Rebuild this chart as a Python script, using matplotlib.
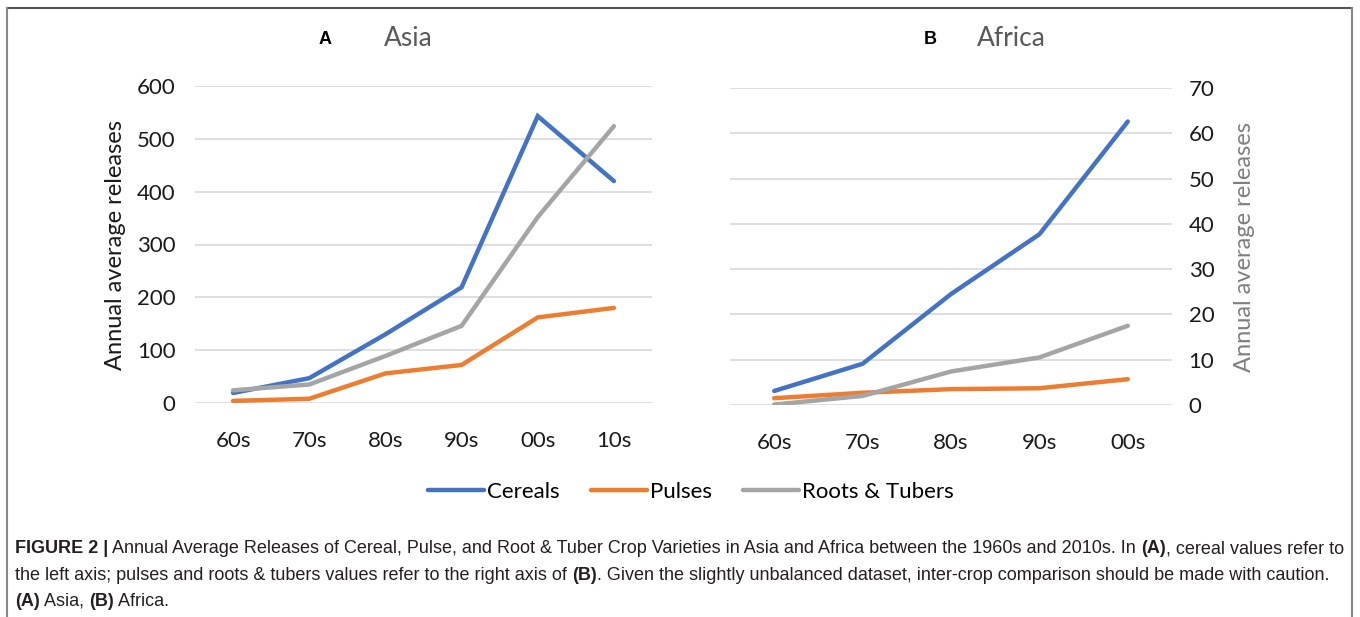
import numpy as np
import matplotlib
matplotlib.use("Agg")
import matplotlib.pyplot as plt
from matplotlib.lines import Line2D

# Data
asia_decades = ["60s", "70s", "80s", "90s", "00s", "10s"]
asia_cereals = [19, 47, 130, 219, 543, 420]
asia_pulses = [4, 8, 56, 72, 162, 180]
asia_roots = [24, 35, 89, 146, 352, 524]

africa_decades = ["60s", "70s", "80s", "90s", "00s"]
africa_cereals = [3.1, 9.1, 24.5, 37.7, 62.6]
africa_pulses = [1.5, 2.7, 3.5, 3.7, 5.7]
africa_roots = [0.1, 2.0, 7.4, 10.5, 17.5]

series_names = ["Cereals", "Pulses", "Roots & Tubers"]
colors = ["#4472C4", "#ED7D31", "#A5A5A5"]

chart_font = ["Lato", "DejaVu Sans"]
cap_font = ["Liberation Sans", "DejaVu Sans"]

plt.rcParams["font.family"] = chart_font
plt.rcParams["font.size"] = 16

W, H = 1360, 617
fig = plt.figure(figsize=(W / 100, H / 100), dpi=100)


def fx(px):
    return px / W


def fy(py):
    return 1 - py / H


def style_axis(ax, labels, ymax, step):
    ax.set_xlim(-0.5, len(labels) - 0.5)
    ax.set_ylim(0, ymax)
    ax.set_yticks(np.arange(0, ymax + 1, step))
    ax.set_xticks(range(len(labels)))
    ax.set_xticklabels(labels)
    ax.grid(axis="y", color="#d9d9d9", lw=1.2)
    ax.set_axisbelow(True)
    for s in ax.spines.values():
        s.set_visible(False)
    ax.tick_params(length=0, labelsize=16, labelcolor="#1a1a1a")
    ax.tick_params(axis="y", pad=14)
    ax.tick_params(axis="x", pad=20)


# Panel A - Asia
ax1 = fig.add_axes([fx(195), fy(403), fx(652 - 195), (403 - 86) / H])
x1 = np.arange(len(asia_decades))
for vals, c in zip([asia_cereals, asia_pulses, asia_roots], colors):
    ax1.plot(x1, vals, color=c, lw=3.2, solid_capstyle="round", solid_joinstyle="miter")
style_axis(ax1, asia_decades, 600, 100)
ax1.set_ylabel("Annual average releases", fontsize=17, color="#1a1a1a", labelpad=8)

# Panel B - Africa
ax2 = fig.add_axes([fx(730), fy(405), fx(1172 - 730), (405 - 88) / H])
x2 = np.arange(len(africa_decades))
for vals, c in zip([africa_cereals, africa_pulses, africa_roots], colors):
    ax2.plot(x2, vals, color=c, lw=3.2, solid_capstyle="round", solid_joinstyle="miter")
style_axis(ax2, africa_decades, 70, 10)
ax2.yaxis.tick_right()
ax2.yaxis.set_label_position("right")
ax2.tick_params(axis="y", pad=12)
ax2.set_ylabel("Annual average releases", fontsize=17, color="#7f7f7f", labelpad=14)

# panel titles
fig.text(fx(325), fy(40), "A", fontsize=13, fontweight="bold",
         family=cap_font, ha="center", va="center")
fig.text(fx(408), fy(38), "Asia", fontsize=19, color="#595959", ha="center", va="center")
fig.text(fx(930), fy(40), "B", fontsize=13, fontweight="bold",
         family=cap_font, ha="center", va="center")
fig.text(fx(1011), fy(38), "Africa", fontsize=19, color="#595959", ha="center", va="center")

# legend
handles = [Line2D([], [], color=c, lw=3.2, solid_capstyle="round") for c in colors]
fig.legend(handles, series_names, loc="center", bbox_to_anchor=(fx(691), fy(492)),
           ncol=3, frameon=False, handlelength=2.5, handletextpad=0.15,
           columnspacing=1.4, prop={"size": 16})

# frame around the figure
fig.add_artist(Line2D([fx(7), fx(1352)], [fy(8), fy(8)], color="#555555", lw=1.5))
fig.add_artist(Line2D([fx(7), fx(7)], [fy(8), 0], color="#888888", lw=1.5))
fig.add_artist(Line2D([fx(1352), fx(1352)], [fy(8), 0], color="#888888", lw=1.5))

# caption with mixed bold runs
caption_lines = [
    [("FIGURE 2 |", "bold"),
     (" Annual Average Releases of Cereal, Pulse, and Root & Tuber Crop Varieties in Asia and Africa between the 1960s and 2010s. In ", "normal"),
     ("(A)", "bold"), (", cereal values refer to", "normal")],
    [("the left axis; pulses and roots & tubers values refer to the right axis of ", "normal"),
     ("(B)", "bold"),
     (". Given the slightly unbalanced dataset, inter-crop comparison should be made with caution.", "normal")],
    [("(A)", "bold"), (" Asia, ", "normal"), ("(B)", "bold"), (" Africa.", "normal")],
]
baselines = [553, 580, 606]

renderer = fig.canvas.get_renderer()
for runs, base in zip(caption_lines, baselines):
    xpos = 15
    for txt, wt in runs:
        t = fig.text(fx(xpos), fy(base), txt, fontsize=13, fontweight=wt,
                     family=cap_font, color="#231f20", va="baseline", ha="left")
        bb = t.get_window_extent(renderer=renderer)
        xpos += bb.width

fig.savefig("out.png", dpi=100)
